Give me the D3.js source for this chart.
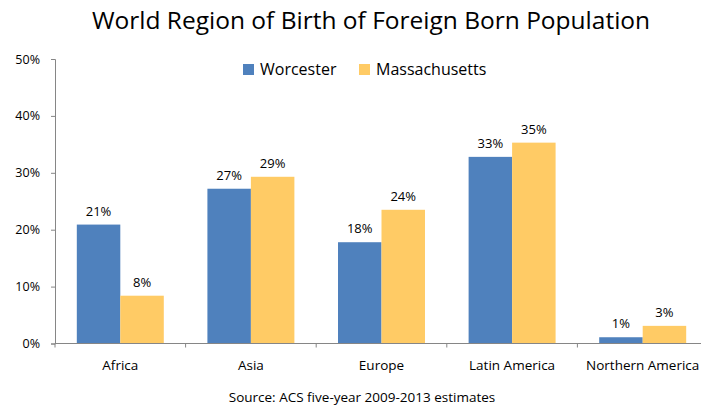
<!DOCTYPE html>
<html>
<head>
<meta charset="utf-8">
<script src="https://cdn.jsdelivr.net/npm/d3@7"></script>
<style>
  body { margin: 0; background: #fff; }
  text { font-family: "Open Sans", "Noto Sans", sans-serif; fill: #000; }
</style>
</head>
<body>
<div id="chart"></div>
<script>
// Data
const regions = ["Africa", "Asia", "Europe", "Latin America", "Northern America"];
const seriesNames = ["Worcester", "Massachusetts"];
const worcester = [0.209, 0.272, 0.178, 0.328, 0.011];
const massachusetts = [0.084, 0.293, 0.235, 0.353, 0.031];
const yTicks = [0, 0.1, 0.2, 0.3, 0.4, 0.5];
const colors = ["#4f81bd", "#ffcb65"];

function draw() {
  const dimensions = {
    width: 701,
    height: 406,
    margin: { top: 59, bottom: 62.5, left: 55, right: -7 },
  };
  const ctrWidth =
    dimensions.width - dimensions.margin.left - dimensions.margin.right;
  const ctrHeight =
    dimensions.height - dimensions.margin.top - dimensions.margin.bottom;

  const values = [worcester, massachusetts];
  const table = regions.map((r, i) => ({
    region: r,
    vals: seriesNames.map((s, j) => ({ series: s, idx: j, value: values[j][i] })),
  }));

  const svg = d3
    .select("#chart")
    .append("svg")
    .attr("width", dimensions.width)
    .attr("height", dimensions.height);

  // Title
  svg
    .append("text")
    .attr("x", 371)
    .attr("y", 29)
    .attr("text-anchor", "middle")
    .style("font-size", "24.5px")
    .text("World Region of Birth of Foreign Born Population");

  const ctr = svg
    .append("g")
    .attr("transform", `translate(${dimensions.margin.left}, ${dimensions.margin.top})`);

  // Scales
  const x0 = d3
    .scaleBand()
    .domain(regions)
    .range([0, ctrWidth])
    .paddingInner(0.334)
    .paddingOuter(0.167);
  const x1 = d3.scaleBand().domain(seriesNames).range([0, x0.bandwidth()]);
  const yScale = d3.scaleLinear().domain([0, 0.5]).range([ctrHeight, 0]);

  // Bars
  const groups = ctr
    .selectAll("g.group")
    .data(table)
    .join("g")
    .attr("class", "group")
    .attr("transform", (d) => `translate(${x0(d.region)}, 0)`);

  groups
    .selectAll("rect")
    .data((d) => d.vals)
    .join("rect")
    .attr("x", (d) => x1(d.series))
    .attr("y", (d) => yScale(d.value))
    .attr("width", x1.bandwidth())
    .attr("height", (d) => ctrHeight - yScale(d.value))
    .attr("fill", (d) => colors[d.idx]);

  // Data labels
  groups
    .selectAll("text.label")
    .data((d) => d.vals)
    .join("text")
    .attr("class", "label")
    .attr("x", (d) => x1(d.series) + x1.bandwidth() / 2)
    .attr("y", (d) => yScale(d.value) - 9)
    .attr("text-anchor", "middle")
    .style("font-size", "13px")
    .text((d) => d3.format(".0%")(d.value));

  // Y axis
  const yAxis = d3
    .axisLeft(yScale)
    .tickValues(yTicks)
    .tickFormat(d3.format(".0%"))
    .tickSize(4)
    .tickPadding(11);
  const yAxisGroup = ctr.append("g").call(yAxis);
  yAxisGroup.selectAll("text").style("font-size", "12.5px").attr("fill", "#000");

  // X axis with ticks between categories
  const boundaries = regions.map((r) => x0(r) - (x0.step() * x0.paddingInner()) / 2);
  const xAxisGroup = ctr.append("g").attr("transform", `translate(0, ${ctrHeight})`);
  xAxisGroup
    .append("line")
    .attr("x1", 0)
    .attr("x2", ctrWidth)
    .attr("stroke", "#868686");
  xAxisGroup
    .selectAll("line.tick")
    .data(boundaries)
    .join("line")
    .attr("class", "tick")
    .attr("x1", (d) => d)
    .attr("x2", (d) => d)
    .attr("y1", 0)
    .attr("y2", 4)
    .attr("stroke", "#868686");
  xAxisGroup
    .selectAll("text")
    .data(regions)
    .join("text")
    .attr("x", (d) => x0(d) + x0.bandwidth() / 2)
    .attr("y", 26)
    .attr("text-anchor", "middle")
    .style("font-size", "13.5px")
    .text((d) => d);

  yAxisGroup.selectAll("path, line").attr("stroke", "#868686");

  // Legend
  const legendItems = [
    { name: seriesNames[0], x: 243, color: colors[0] },
    { name: seriesNames[1], x: 359, color: colors[1] },
  ];
  const legend = svg
    .append("g")
    .selectAll("g")
    .data(legendItems)
    .join("g")
    .attr("transform", (d) => `translate(${d.x}, 64)`);
  legend
    .append("rect")
    .attr("width", 11)
    .attr("height", 11)
    .attr("fill", (d) => d.color);
  legend
    .append("text")
    .attr("x", 17)
    .attr("y", 11)
    .style("font-size", "16px")
    .text((d) => d.name);

  // Source
  svg
    .append("text")
    .attr("x", 362)
    .attr("y", 402)
    .attr("text-anchor", "middle")
    .style("font-size", "13.5px")
    .text("Source: ACS five-year 2009-2013 estimates");
}

draw();
</script>
</body>
</html>
